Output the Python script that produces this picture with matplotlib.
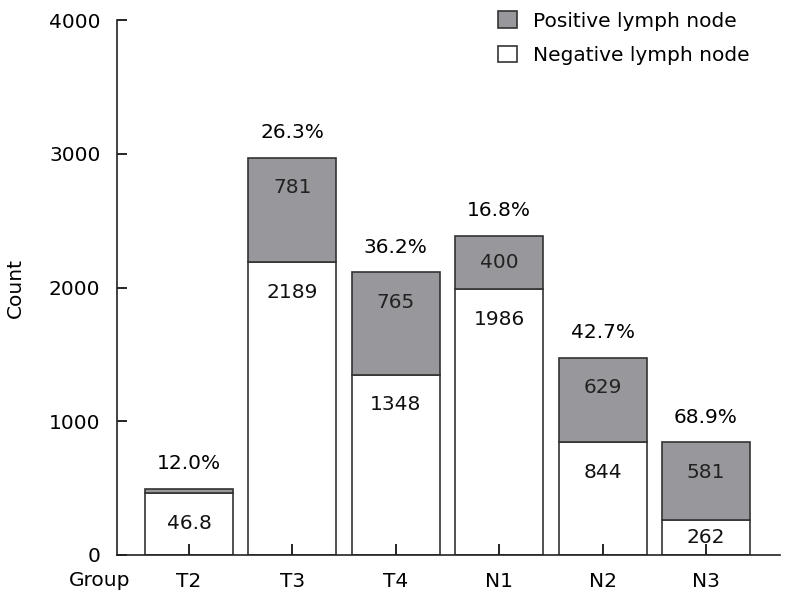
import matplotlib.pyplot as plt
import numpy as np

plt.rcParams['font.family'] = ['DejaVu Sans']

groups = ['T2', 'T3', 'T4', 'N1', 'N2', 'N3']
negative = [463, 2189, 1348, 1986, 844, 262]
positive = [32, 781, 765, 400, 629, 581]
neg_labels = ['46.8', '2189', '1348', '1986', '844', '262']
pos_labels = ['', '781', '765', '400', '629', '581']
pct_labels = ['12.0%', '26.3%', '36.2%', '16.8%', '42.7%', '68.9%']

gray = '#98989c'
edge = '#333333'
fs = 14.5

fig = plt.figure(figsize=(7.95, 6.02), dpi=100)
ax = fig.add_axes([117/795, 1 - 555/602, (780 - 117)/795, (555 - 20)/602])

x = np.arange(len(groups))
b1 = ax.bar(x, negative, width=0.85, color='white', edgecolor=edge, linewidth=1.2,
            label='Negative lymph node')
b2 = ax.bar(x, positive, width=0.85, bottom=negative, color=gray, edgecolor=edge,
            linewidth=1.2, label='Positive lymph node')

ax.set_xlim(-0.696, 5.716)
ax.set_ylim(0, 4000)
ax.set_yticks([0, 1000, 2000, 3000, 4000])
ax.set_xticks(x)
ax.set_xticklabels(groups)

for s in ['top', 'right']:
    ax.spines[s].set_visible(False)
for s in ['left', 'bottom']:
    ax.spines[s].set_linewidth(1.2)
    ax.spines[s].set_color('#222222')

ax.tick_params(axis='y', direction='in', length=7, width=1.2, pad=12, labelsize=fs)
ax.tick_params(axis='x', direction='in', length=8, width=1.2, pad=12, labelsize=fs)

# px -> data units (535 px for 4000)
u = 4000 / 535.0
for i in range(len(groups)):
    top = negative[i] + positive[i]
    ax.text(x[i], top + 25 * u, pct_labels[i], ha='center', va='center', fontsize=fs)
    if pos_labels[i]:
        y = top - min(30 * u, positive[i] / 2)
        ax.text(x[i], y, pos_labels[i], ha='center', va='center', fontsize=fs, color='#222222')
    y = negative[i] - min(30 * u, negative[i] / 2)
    ax.text(x[i], y, neg_labels[i], ha='center', va='center', fontsize=fs, color='#111111')

ax.set_ylabel('Count', fontsize=fs)
ax.yaxis.set_label_coords(-0.139, 0.5)

fig.text(100/795, 1 - 581/602, 'Group', ha='center', va='center', fontsize=fs)

ax.legend([b2, b1], ['Positive lymph node', 'Negative lymph node'], loc='upper right',
          bbox_to_anchor=(0.981, 1.05), frameon=False, fontsize=fs,
          handlelength=0.9, handleheight=0.9, handletextpad=0.8, labelspacing=0.75)

plt.savefig('out.png', dpi=100)
